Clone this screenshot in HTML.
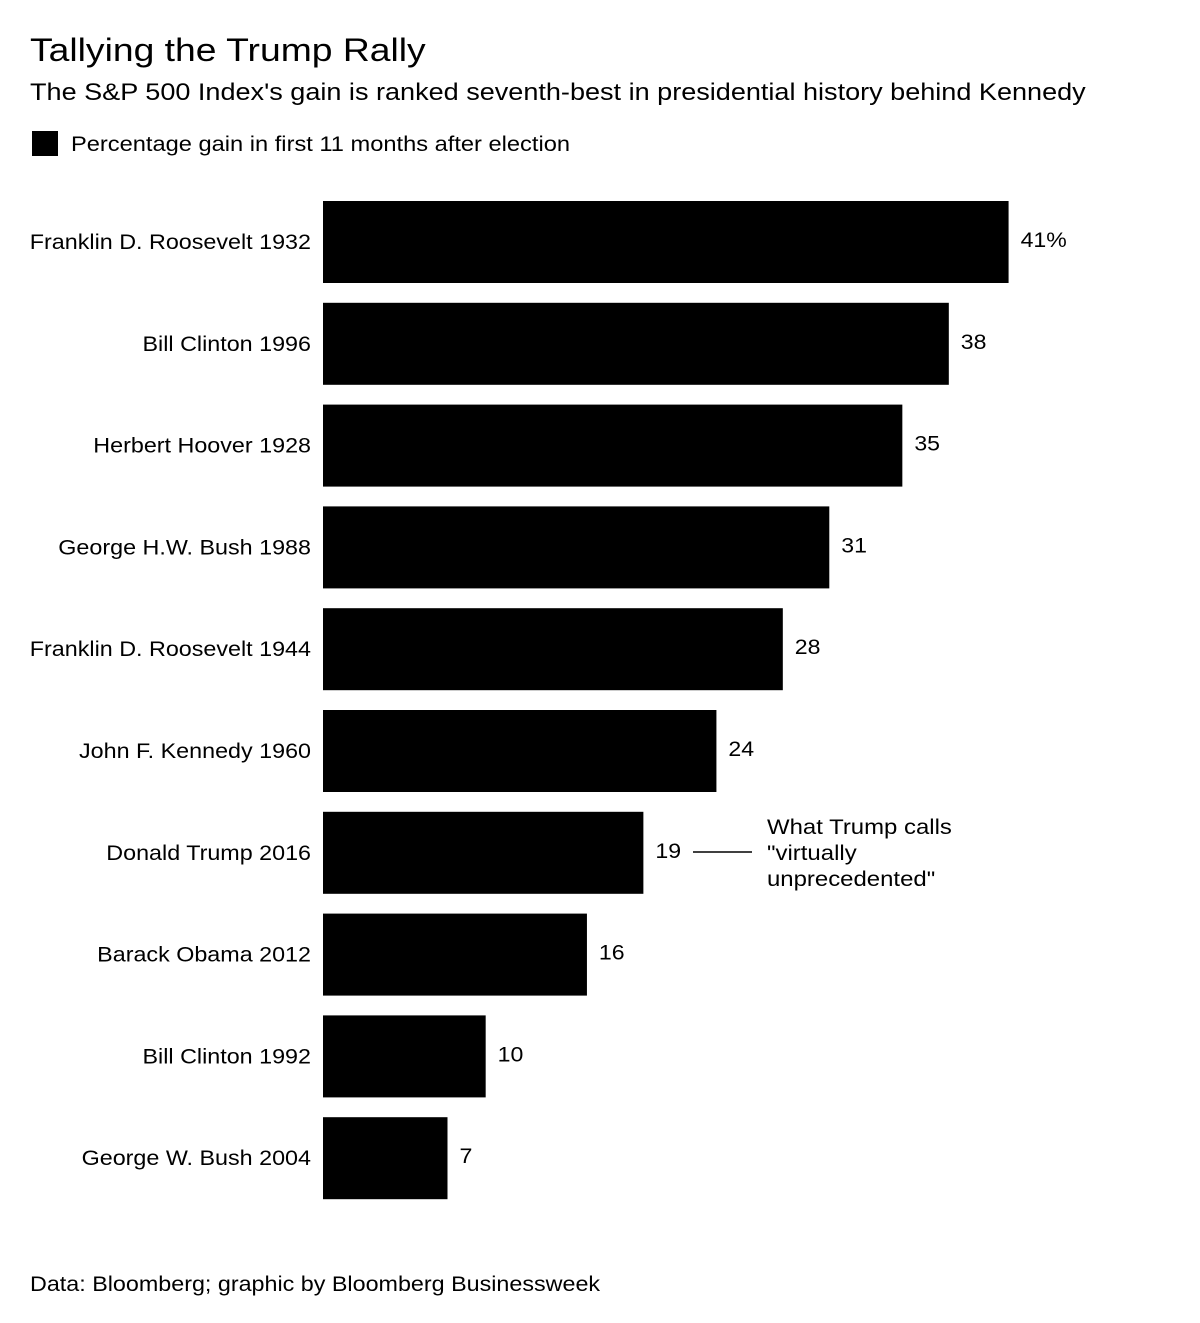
<!DOCTYPE html>
<html><head><meta charset="utf-8"><style>
body{margin:0;background:#fff;width:1200px;height:1318px;overflow:hidden;font-family:"Liberation Sans",Arial,sans-serif;color:#000}
</style></head><body>
<svg id="chart" width="1200" height="1318" xmlns="http://www.w3.org/2000/svg" font-family="Liberation Sans, Arial, sans-serif">
<text x="30" y="61" font-size="32" data-s="1.165">Tallying the Trump Rally</text>
<text x="30" y="100" font-size="24" data-s="1.127">The S&amp;P 500 Index's gain is ranked seventh-best in presidential history behind Kennedy</text>
<rect x="32" y="131" width="26" height="25" fill="#000"/>
<text x="71" y="151" font-size="21" data-s="1.126">Percentage gain in first 11 months after election</text>
<g id="bars"></g>
<line x1="693" y1="852" x2="752" y2="852" stroke="#000" stroke-width="1.5"/>
<text font-size="21"><tspan x="767" y="834" data-s="1.14">What Trump calls</tspan><tspan x="767" y="860" data-s="1.14">"virtually</tspan><tspan x="767" y="886" data-s="1.14">unprecedented"</tspan></text>
<text x="30" y="1291" font-size="21" data-s="1.11">Data: Bloomberg; graphic by Bloomberg Businessweek</text>
</svg>
<script>
const categories=["Franklin D. Roosevelt 1932","Bill Clinton 1996","Herbert Hoover 1928","George H.W. Bush 1988","Franklin D. Roosevelt 1944","John F. Kennedy 1960","Donald Trump 2016","Barack Obama 2012","Bill Clinton 1992","George W. Bush 2004"];
const values=[41.3,37.7,34.9,30.5,27.7,23.7,19.3,15.9,9.8,7.5];
const valueLabels=["41%","38","35","31","28","24","19","16","10","7"];
const x0=323, pxPerUnit=16.6, top0=201, step=101.8, barH=82;
const xScale=v=>x0+v*pxPerUnit;
const yScale=i=>top0+i*step;
const g=document.getElementById('bars');
const NS="http://www.w3.org/2000/svg";
categories.forEach((c,i)=>{
  const y=yScale(i);
  const r=document.createElementNS(NS,'rect');
  r.setAttribute('x',x0);r.setAttribute('y',y);r.setAttribute('width',xScale(values[i])-x0);r.setAttribute('height',barH);r.setAttribute('fill','#000');
  
  
  g.appendChild(r);
  const t=document.createElementNS(NS,'text');
  t.setAttribute('x',311);t.setAttribute('y',y+barH/2+7);t.setAttribute('font-size','21');t.setAttribute('text-anchor','end');t.setAttribute('data-s','1.11');
  t.textContent=c;
  
  
  g.appendChild(t);
  const v=document.createElementNS(NS,'text');
  v.setAttribute('x',xScale(values[i])+12);v.setAttribute('y',y+barH/2+5);v.setAttribute('font-size','21');v.setAttribute('data-s','1.1');
  v.textContent=valueLabels[i];
  
  
  g.appendChild(v);
});
document.querySelectorAll('[data-s]').forEach(el=>{
  const w=el.getComputedTextLength();
  el.setAttribute('textLength',(w*parseFloat(el.getAttribute('data-s'))).toFixed(1));
  el.setAttribute('lengthAdjust','spacingAndGlyphs');
});
</script>
</body></html>
